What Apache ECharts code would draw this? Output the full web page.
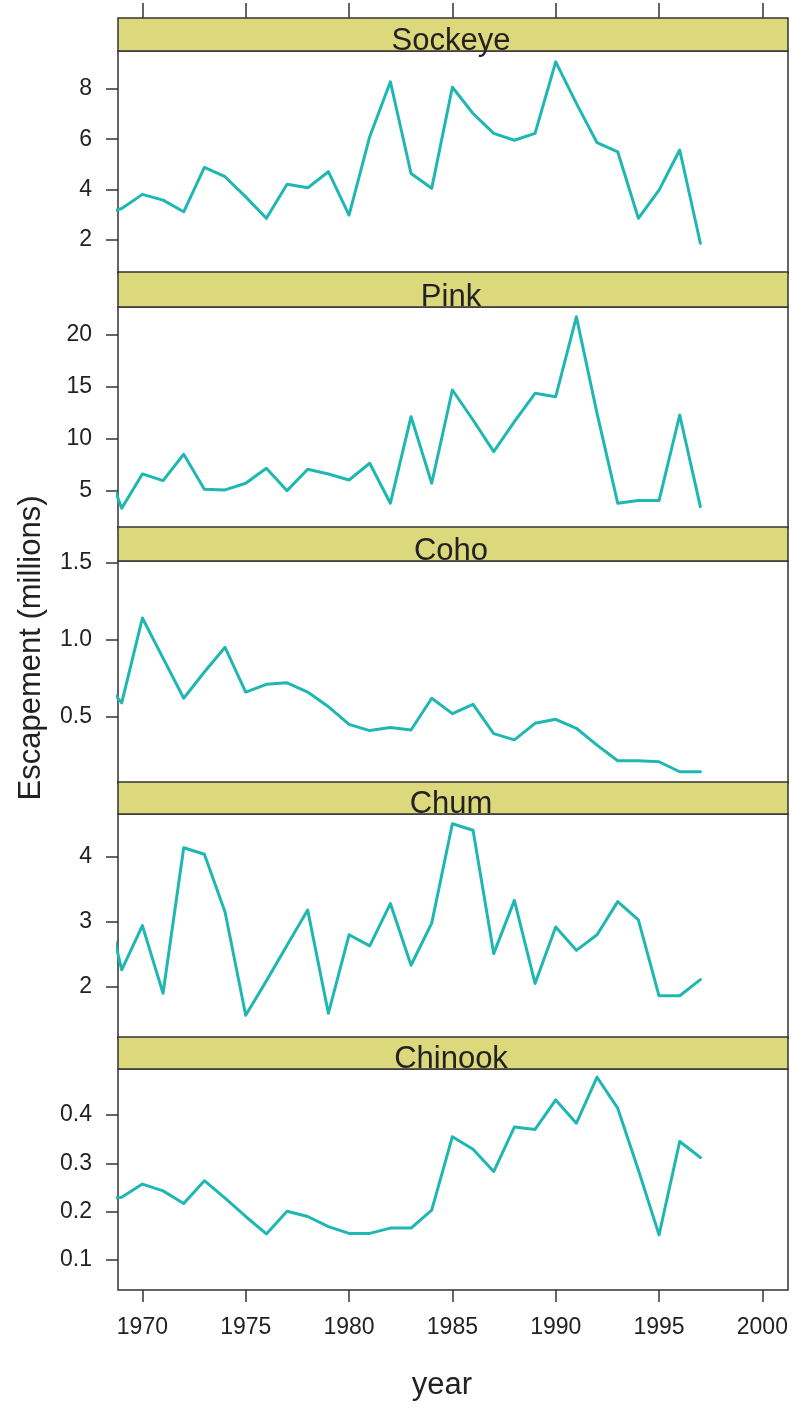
<!DOCTYPE html>
<html>
<head>
<meta charset="utf-8">
<script src="https://cdn.jsdelivr.net/npm/echarts@6/dist/echarts.min.js"></script>
<style>
html,body{margin:0;padding:0;background:#ffffff;}
#chart{width:793px;height:1407px;}
</style>
</head>
<body>
<div id="chart"></div>
<script>
// ---------------- data ----------------
const years = [1968,1969,1970,1971,1972,1973,1974,1975,1976,1977,1978,1979,1980,1981,1982,
               1983,1984,1985,1986,1987,1988,1989,1990,1991,1992,1993,1994,1995,1996,1997];
const panelNames = ['Sockeye','Pink','Coho','Chum','Chinook'];

const sockeye = [3.0,3.25,3.81,3.58,3.12,4.88,4.51,3.71,2.86,4.21,4.07,4.71,2.99,6.10,8.28,
                 4.64,4.05,8.06,7.02,6.23,5.96,6.23,9.07,7.42,5.86,5.50,2.86,3.98,5.57,1.87];
const pink    = [8.6,3.3,6.61,5.96,8.51,5.13,5.07,5.71,7.16,5.0,7.06,6.61,6.03,7.64,3.79,
                 12.13,5.71,14.70,11.81,8.76,11.65,14.38,14.06,21.76,12.45,3.79,4.04,4.04,12.29,3.46];
const coho    = [0.75,0.59,1.14,0.88,0.62,0.79,0.95,0.66,0.71,0.72,0.66,0.565,0.45,0.41,0.43,
                 0.414,0.62,0.52,0.58,0.39,0.35,0.457,0.483,0.425,0.316,0.214,0.214,0.208,0.143,0.143];
const chum    = [3.6,2.26,2.94,1.90,4.14,4.04,3.15,1.56,2.09,2.64,3.18,1.59,2.80,2.63,3.28,
                 2.33,2.98,4.51,4.41,2.51,3.33,2.05,2.92,2.56,2.80,3.31,3.03,1.86,1.86,2.11];
const chinook = [0.225,0.23,0.257,0.243,0.217,0.264,0.228,0.19,0.154,0.201,0.19,0.169,0.155,0.155,0.166,
                 0.166,0.203,0.355,0.329,0.283,0.375,0.37,0.431,0.383,0.478,0.414,0.286,0.152,0.345,0.312];

const xTicks       = [1970,1975,1980,1985,1990,1995,2000];
const sockeyeTicks = [2,4,6,8];
const pinkTicks    = [5,10,15,20];
const cohoTicks    = [0.5,1.0,1.5];
const chumTicks    = [2,3,4];
const chinookTicks = [0.1,0.2,0.3,0.4];

const xMin = 1968.82, xMax = 2001.24;
const yMins = [0.69, 1.4, 0.07, 1.21, 0.038];
const yMaxs = [9.5, 22.7, 1.51, 4.66, 0.495];

// ---------------- layout ----------------
const series = [sockeye, pink, coho, chum, chinook];
const ticks = [sockeyeTicks, pinkTicks, cohoTicks, chumTicks, chinookTicks];
const decimals = [0, 0, 1, 0, 1];
const L = 118, W = 670;
const stripTops = [18, 272, 527, 782, 1037];
const plotTops = [51, 307, 561, 814, 1069];
const plotBottoms = [273, 528, 783, 1038, 1290];
const FONT = '"Liberation Sans", Arial, Helvetica, sans-serif';
const INK = '#222222';
const FRAME = '#333333';
const LINE = '#1fb7b2';
const STRIP = '#dcd97c';

const grids = [], xAxes = [], yAxes = [], seriesOpt = [], graphics = [];
for (let i = 0; i < 5; i++) {
  grids.push({
    left: L, top: plotTops[i], width: W, height: plotBottoms[i] - plotTops[i],
    show: true, borderColor: FRAME, borderWidth: 1.5, backgroundColor: '#ffffff',
    containLabel: false
  });
  const isTop = i === 0, isBottom = i === 4;
  xAxes.push({
    type: 'value', gridIndex: i, min: xMin, max: xMax,
    position: isTop ? 'top' : 'bottom',
    offset: isTop ? (plotTops[0] - stripTops[0]) : 0,
    axisLine: { show: false },
    splitLine: { show: false },
    axisTick: {
      show: isTop || isBottom, customValues: xTicks, length: isTop ? 15 : 12,
      lineStyle: { color: FRAME, width: 1.5 }
    },
    axisLabel: {
      show: isBottom, customValues: xTicks, fontSize: 23, fontFamily: FONT,
      color: INK, margin: 26, formatter: v => String(v)
    }
  });
  const dec = decimals[i];
  yAxes.push({
    type: 'value', gridIndex: i, min: yMins[i], max: yMaxs[i],
    axisLine: { show: false },
    splitLine: { show: false },
    axisTick: { show: true, customValues: ticks[i], length: 12,
      lineStyle: { color: FRAME, width: 1.5 } },
    axisLabel: { show: true, customValues: ticks[i], fontSize: 23, fontFamily: FONT,
      color: INK, margin: 26, formatter: v => Number(v).toFixed(dec) }
  });
  seriesOpt.push({
    type: 'line', xAxisIndex: i, yAxisIndex: i, name: panelNames[i],
    data: years.map((y, k) => [y, series[i][k]]),
    showSymbol: false, symbol: 'none', clip: true,
    lineStyle: { color: LINE, width: 3, join: 'round', cap: 'round' },
    itemStyle: { color: LINE },
    animation: false
  });
  // strip
  graphics.push({
    type: 'rect', z: 10,
    shape: { x: L, y: stripTops[i], width: W, height: plotTops[i] - stripTops[i] },
    style: { fill: STRIP, stroke: FRAME, lineWidth: 1.5 }
  });
  graphics.push({
    type: 'text', z: 11,
    x: 451, y: plotTops[i] - 10,
    style: { text: panelNames[i], fontSize: 31, fontFamily: FONT, fill: INK,
      align: 'center', verticalAlign: 'middle', textAlign: 'center', textVerticalAlign: 'middle' }
  });
}
graphics.push({
  type: 'text', z: 11, x: 31, y: 648, rotation: Math.PI / 2,
  style: { text: 'Escapement (millions)', fontSize: 31, fontFamily: FONT, fill: INK,
    align: 'center', verticalAlign: 'middle', textAlign: 'center', textVerticalAlign: 'middle' }
});
graphics.push({
  type: 'text', z: 11, x: 442, y: 1385,
  style: { text: 'year', fontSize: 31, fontFamily: FONT, fill: INK,
    align: 'center', verticalAlign: 'middle', textAlign: 'center', textVerticalAlign: 'middle' }
});

const chart = echarts.init(document.getElementById('chart'), null, { renderer: 'canvas' });
chart.setOption({
  animation: false,
  backgroundColor: '#ffffff',
  grid: grids,
  xAxis: xAxes,
  yAxis: yAxes,
  series: seriesOpt,
  graphic: { elements: graphics }
});
</script>
</body>
</html>
